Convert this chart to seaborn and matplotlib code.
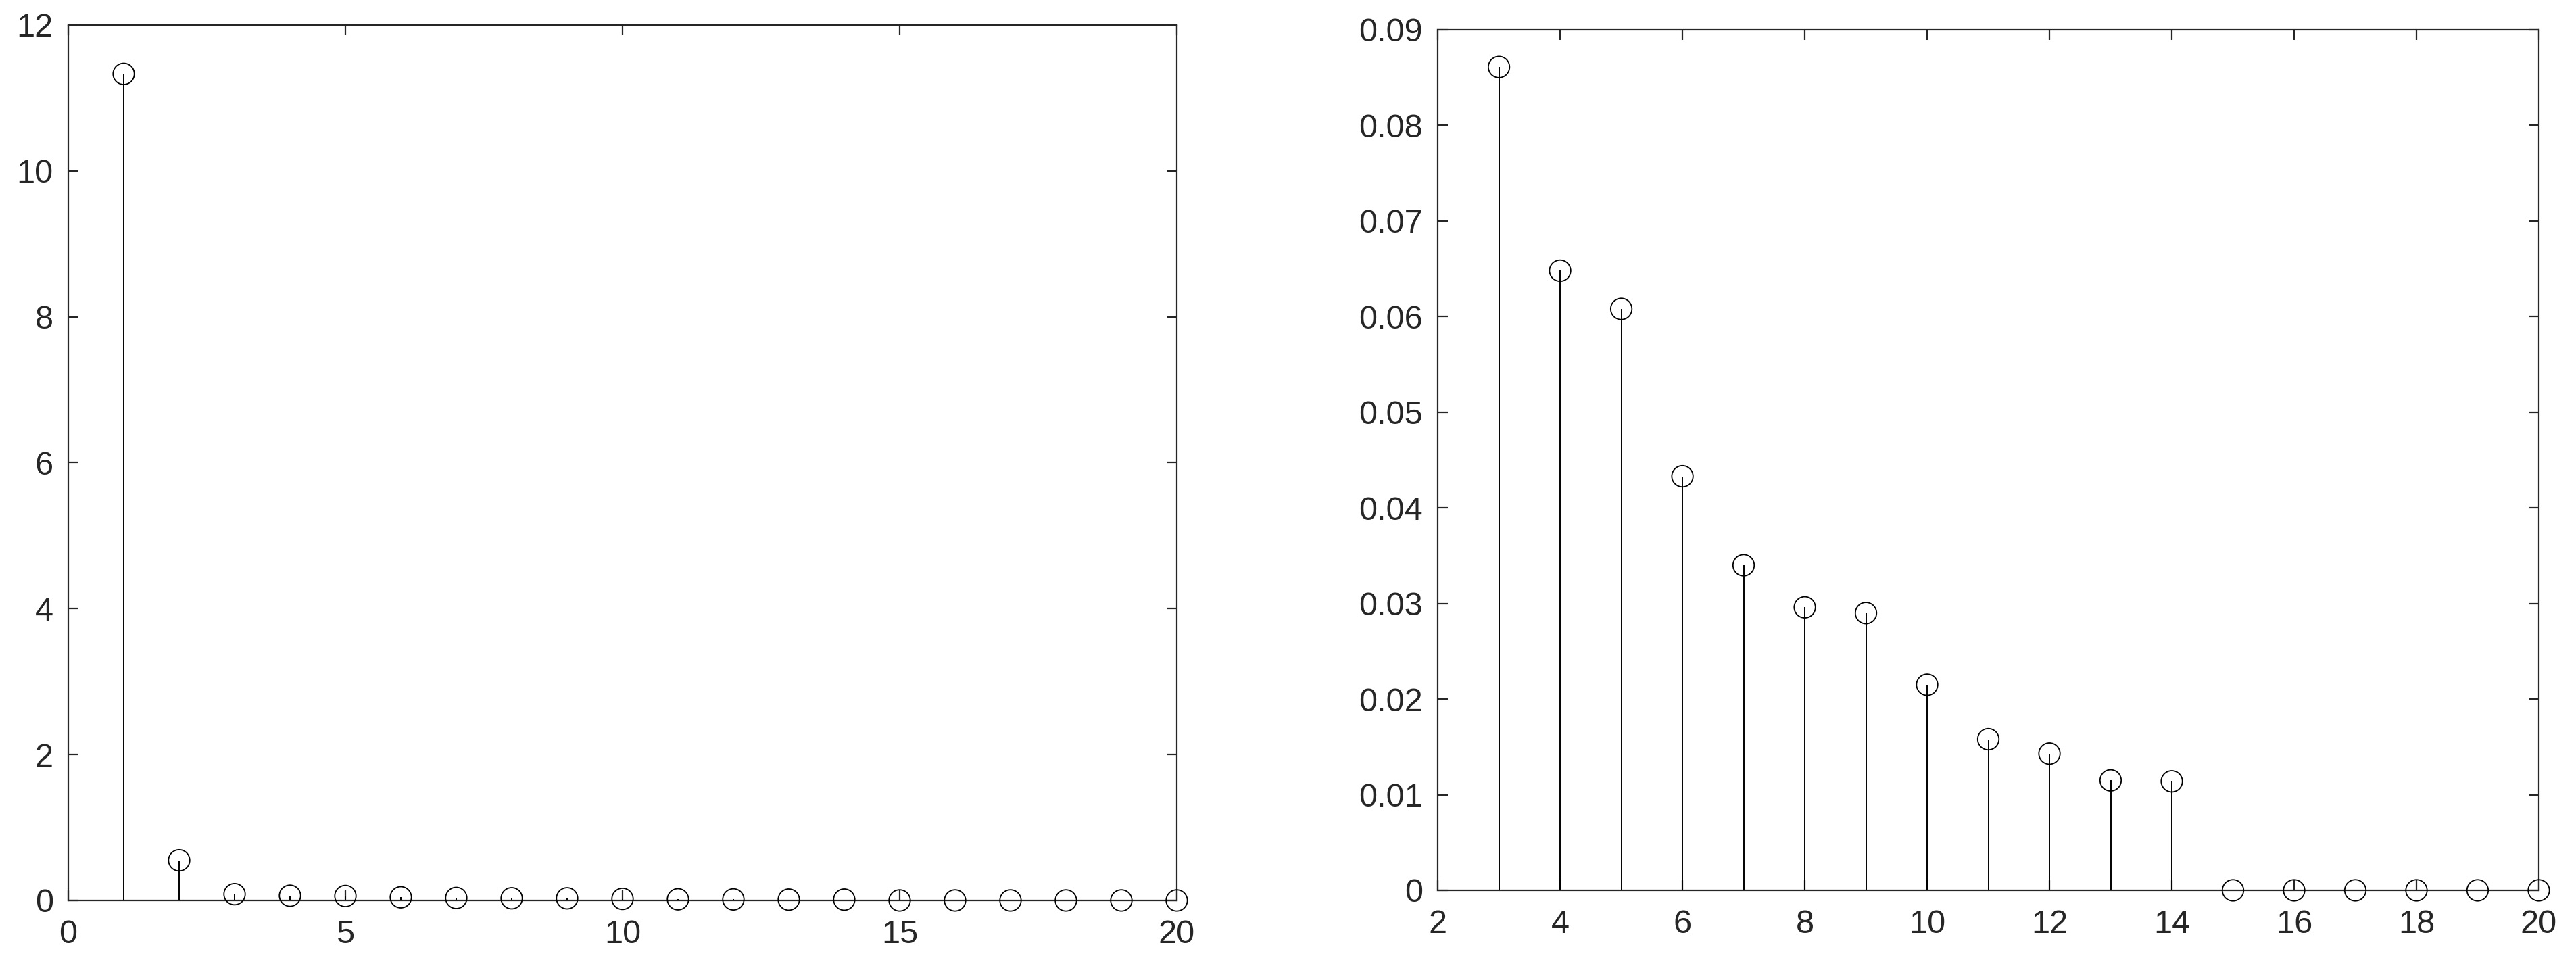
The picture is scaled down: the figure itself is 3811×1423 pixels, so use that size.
import numpy as np
import pandas as pd
import seaborn as sns
import matplotlib.pyplot as plt

# stem values, index 1..20
idx = list(range(1, 21))
vals = [11.33, 0.55, 0.0861, 0.0648, 0.0608, 0.0433, 0.0340, 0.0296, 0.0290,
        0.0215, 0.0158, 0.0143, 0.0115, 0.0114, 0, 0, 0, 0, 0, 0]

left_xticks = [0, 5, 10, 15, 20]
left_yticks = [0, 2, 4, 6, 8, 10, 12]
right_xticks = [2, 4, 6, 8, 10, 12, 14, 16, 18, 20]
right_yticks = [0, 0.01, 0.02, 0.03, 0.04, 0.05, 0.06, 0.07, 0.08, 0.09]
right_ylabels = ["0", "0.01", "0.02", "0.03", "0.04", "0.05", "0.06", "0.07", "0.08", "0.09"]

df = pd.DataFrame({"n": idx, "v": vals})
df_right = df[df.n >= 3]

sns.set_style("ticks")
plt.rcParams["font.family"] = ["Liberation Sans", "DejaVu Sans"]
plt.rcParams["font.size"] = 17.5

dark = "#262626"
fig = plt.figure(figsize=(19.06, 7.115), dpi=200)
ax1 = fig.add_axes([0.0265, 0.0640, 0.4302, 0.9100])
ax2 = fig.add_axes([0.5580, 0.0745, 0.4273, 0.8946])


def stem(ax, data):
    ax.vlines(data.n, 0, data.v, color="black", lw=0.7, zorder=2)
    ax.axhline(0, color=dark, lw=0.9, zorder=2)
    sns.scatterplot(data=data, x="n", y="v", ax=ax, marker="o", s=128,
                    facecolors="none", edgecolor="black", linewidth=0.65,
                    clip_on=False, zorder=3, legend=False)
    ax.set_xlabel("")
    ax.set_ylabel("")
    for sp in ax.spines.values():
        sp.set_visible(True)
        sp.set_color(dark)
        sp.set_linewidth(0.8)
    ax.tick_params(direction="in", length=5.4, width=0.8, color=dark,
                   labelcolor=dark, labelsize=17.5, top=True, right=True)
    ax.tick_params(axis="x", pad=10)
    ax.tick_params(axis="y", pad=8)


stem(ax1, df)
ax1.set_xlim(0, 20)
ax1.set_ylim(0, 12)
ax1.set_xticks(left_xticks)
ax1.set_yticks(left_yticks)

stem(ax2, df_right)
ax2.set_xlim(2, 20)
ax2.set_ylim(0, 0.09)
ax2.set_xticks(right_xticks)
ax2.set_yticks(right_yticks)
ax2.set_yticklabels(right_ylabels)

fig.savefig("out.png", dpi=200)
